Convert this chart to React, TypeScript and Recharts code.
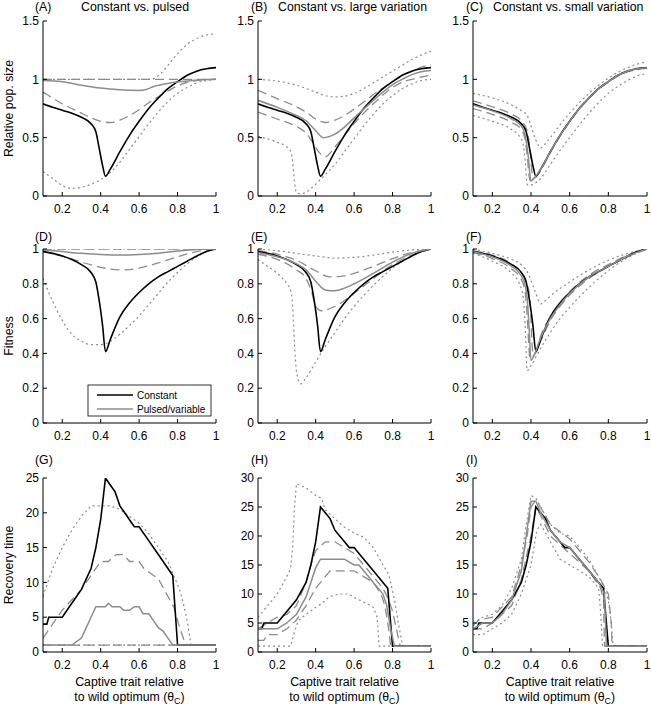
import React from 'react';
import { LineChart, Line, XAxis, YAxis } from 'recharts';

type Pt = [number, number];

// ---------- tick labels ----------
const X_TICKS = [0.2, 0.4, 0.6, 0.8, 1];
const POP_TICKS = [0, 0.5, 1, 1.5];
const FIT_TICKS = [0, 0.2, 0.4, 0.6, 0.8, 1];
const REC_TICKS_25 = [0, 5, 10, 15, 20, 25];
const REC_TICKS_30 = [0, 5, 10, 15, 20, 25, 30];

// ---------- Relative pop. size ----------
const popConstant: Pt[] = [[0.1,0.79],[0.15,0.76],[0.2,0.735],[0.25,0.71],[0.3,0.675],[0.35,0.62],[0.375,0.55],[0.39,0.43],[0.41,0.26],[0.425,0.17],[0.45,0.23],[0.5,0.38],[0.55,0.52],[0.6,0.64],[0.65,0.75],[0.7,0.84],[0.75,0.92],[0.8,0.98],[0.85,1.035],[0.9,1.07],[0.95,1.09],[1.0,1.1]];

const popPulsedMean: Pt[] = [[0.1,0.99],[0.2,0.98],[0.3,0.95],[0.4,0.925],[0.5,0.91],[0.6,0.905],[0.63,0.91],[0.68,0.94],[0.75,0.965],[0.85,0.985],[0.95,0.998],[1.0,1.0]];
const popPulsedDashHi: Pt[] = [[0.1,1.0],[1.0,1.0]];
const popPulsedDashLo: Pt[] = [[0.1,0.89],[0.15,0.84],[0.2,0.79],[0.25,0.75],[0.3,0.71],[0.35,0.67],[0.4,0.64],[0.45,0.63],[0.5,0.65],[0.55,0.69],[0.6,0.74],[0.65,0.8],[0.7,0.85],[0.75,0.9],[0.8,0.945],[0.85,0.975],[0.9,0.99],[1.0,1.0]];
const popPulsedDotHi: Pt[] = [[0.1,1.0],[0.66,1.0],[0.7,1.03],[0.75,1.12],[0.8,1.22],[0.85,1.3],[0.9,1.35],[0.95,1.38],[1.0,1.39]];
const popPulsedDotLo: Pt[] = [[0.1,0.21],[0.15,0.15],[0.2,0.09],[0.25,0.065],[0.3,0.075],[0.35,0.1],[0.4,0.14],[0.425,0.17],[0.45,0.2],[0.5,0.29],[0.55,0.4],[0.6,0.51],[0.65,0.62],[0.7,0.72],[0.75,0.81],[0.8,0.88],[0.85,0.93],[0.9,0.97],[0.95,0.99],[1.0,1.0]];

const popLargeMean: Pt[] = [[0.1,0.82],[0.2,0.76],[0.3,0.69],[0.35,0.645],[0.4,0.56],[0.44,0.5],[0.5,0.53],[0.55,0.59],[0.6,0.67],[0.65,0.745],[0.7,0.82],[0.75,0.89],[0.8,0.955],[0.85,1.0],[0.9,1.04],[0.95,1.065],[1.0,1.075]];
const popLargeDashHi: Pt[] = [[0.1,0.905],[0.2,0.835],[0.3,0.765],[0.35,0.72],[0.4,0.66],[0.45,0.63],[0.5,0.65],[0.55,0.69],[0.6,0.745],[0.65,0.805],[0.7,0.87],[0.75,0.925],[0.8,0.98],[0.85,1.03],[0.9,1.07],[0.95,1.105],[1.0,1.125]];
const popLargeDashLo: Pt[] = [[0.1,0.72],[0.2,0.66],[0.3,0.595],[0.35,0.54],[0.38,0.47],[0.42,0.37],[0.45,0.335],[0.5,0.42],[0.55,0.52],[0.6,0.62],[0.65,0.71],[0.7,0.79],[0.75,0.865],[0.8,0.93],[0.85,0.975],[0.9,1.0],[0.95,1.02],[1.0,1.035]];
const popLargeDotHi: Pt[] = [[0.1,1.0],[0.2,0.985],[0.3,0.95],[0.4,0.89],[0.45,0.86],[0.5,0.85],[0.55,0.855],[0.6,0.88],[0.65,0.92],[0.7,0.97],[0.75,1.02],[0.8,1.07],[0.85,1.12],[0.9,1.17],[0.95,1.21],[1.0,1.24]];
const popLargeDotLo: Pt[] = [[0.1,0.51],[0.15,0.49],[0.2,0.46],[0.25,0.42],[0.27,0.38],[0.28,0.3],[0.29,0.12],[0.3,0.03],[0.32,0.02],[0.34,0.025],[0.38,0.07],[0.43,0.15],[0.5,0.27],[0.55,0.38],[0.6,0.49],[0.65,0.6],[0.7,0.7],[0.75,0.79],[0.8,0.86],[0.85,0.92],[0.9,0.96],[0.95,0.99],[1.0,1.0]];

const popSmallMean: Pt[] = [[0.1,0.78],[0.2,0.73],[0.3,0.66],[0.35,0.6],[0.37,0.52],[0.385,0.35],[0.4,0.13],[0.42,0.16],[0.45,0.23],[0.5,0.38],[0.55,0.52],[0.6,0.64],[0.65,0.75],[0.7,0.84],[0.75,0.92],[0.8,0.98],[0.85,1.035],[0.9,1.07],[0.95,1.09],[1.0,1.1]];
const popSmallDashHi: Pt[] = [[0.1,0.815],[0.2,0.765],[0.3,0.7],[0.35,0.645],[0.38,0.56],[0.395,0.4],[0.41,0.15],[0.43,0.18],[0.45,0.23],[0.5,0.38],[0.55,0.52],[0.6,0.645],[0.65,0.755],[0.7,0.845],[0.75,0.925],[0.8,0.985],[0.85,1.04],[0.9,1.075],[0.95,1.095],[1.0,1.105]];
const popSmallDashLo: Pt[] = [[0.1,0.75],[0.2,0.7],[0.3,0.63],[0.35,0.57],[0.37,0.48],[0.38,0.35],[0.395,0.13],[0.42,0.15],[0.45,0.22],[0.5,0.37],[0.55,0.51],[0.6,0.635],[0.65,0.745],[0.7,0.835],[0.75,0.915],[0.8,0.975],[0.85,1.03],[0.9,1.065],[0.95,1.085],[1.0,1.095]];
const popSmallDotHi: Pt[] = [[0.1,0.88],[0.2,0.84],[0.3,0.78],[0.35,0.73],[0.38,0.69],[0.4,0.6],[0.43,0.46],[0.45,0.41],[0.47,0.44],[0.5,0.5],[0.55,0.61],[0.6,0.71],[0.65,0.8],[0.7,0.88],[0.75,0.95],[0.8,1.01],[0.85,1.06],[0.9,1.1],[0.95,1.13],[1.0,1.15]];
const popSmallDotLo: Pt[] = [[0.1,0.69],[0.2,0.64],[0.3,0.57],[0.34,0.51],[0.36,0.44],[0.37,0.3],[0.38,0.1],[0.39,0.09],[0.41,0.1],[0.45,0.15],[0.5,0.27],[0.55,0.39],[0.6,0.5],[0.65,0.61],[0.7,0.71],[0.75,0.8],[0.8,0.88],[0.85,0.94],[0.9,0.99],[0.95,1.03],[1.0,1.05]];

// ---------- Fitness ----------
const fitConstant: Pt[] = [[0.1,0.985],[0.15,0.975],[0.2,0.96],[0.25,0.94],[0.3,0.91],[0.35,0.865],[0.375,0.81],[0.39,0.72],[0.41,0.56],[0.425,0.41],[0.45,0.48],[0.5,0.61],[0.55,0.69],[0.6,0.75],[0.65,0.8],[0.7,0.84],[0.75,0.87],[0.8,0.9],[0.85,0.93],[0.9,0.96],[0.95,0.985],[1.0,1.0]];

const fitPulsedMean: Pt[] = [[0.1,0.995],[0.2,0.985],[0.3,0.975],[0.4,0.968],[0.5,0.965],[0.6,0.968],[0.7,0.976],[0.8,0.988],[0.9,0.997],[1.0,1.0]];
const fitPulsedDashHi: Pt[] = [[0.1,1.0],[1.0,1.0]];
const fitPulsedDashLo: Pt[] = [[0.1,0.99],[0.15,0.975],[0.2,0.96],[0.3,0.925],[0.4,0.895],[0.5,0.88],[0.55,0.882],[0.6,0.89],[0.7,0.92],[0.8,0.955],[0.9,0.985],[1.0,1.0]];
const fitPulsedDotHi: Pt[] = [[0.1,1.0],[1.0,1.0]];
const fitPulsedDotLo: Pt[] = [[0.1,0.83],[0.15,0.7],[0.2,0.59],[0.25,0.51],[0.3,0.47],[0.35,0.45],[0.4,0.45],[0.45,0.47],[0.5,0.51],[0.55,0.56],[0.6,0.615],[0.65,0.68],[0.7,0.745],[0.75,0.81],[0.8,0.865],[0.85,0.915],[0.9,0.955],[0.95,0.985],[1.0,1.0]];

const fitLargeMean: Pt[] = [[0.1,0.98],[0.2,0.955],[0.3,0.915],[0.35,0.88],[0.4,0.815],[0.45,0.765],[0.5,0.76],[0.55,0.775],[0.6,0.8],[0.7,0.86],[0.8,0.925],[0.9,0.975],[1.0,1.0]];
const fitLargeDashHi: Pt[] = [[0.1,0.99],[0.2,0.97],[0.3,0.935],[0.4,0.875],[0.47,0.84],[0.55,0.845],[0.6,0.86],[0.7,0.9],[0.8,0.945],[0.9,0.98],[1.0,1.0]];
const fitLargeDashLo: Pt[] = [[0.1,0.97],[0.2,0.94],[0.3,0.88],[0.35,0.83],[0.38,0.75],[0.4,0.67],[0.43,0.645],[0.5,0.67],[0.6,0.745],[0.7,0.83],[0.8,0.91],[0.9,0.965],[1.0,1.0]];
const fitLargeDotHi: Pt[] = [[0.1,1.0],[0.2,0.99],[0.3,0.975],[0.4,0.96],[0.5,0.948],[0.6,0.952],[0.7,0.965],[0.8,0.982],[0.9,0.995],[1.0,1.0]];
const fitLargeDotLo: Pt[] = [[0.1,0.94],[0.15,0.9],[0.2,0.86],[0.25,0.8],[0.27,0.76],[0.28,0.68],[0.29,0.45],[0.3,0.3],[0.32,0.225],[0.35,0.26],[0.4,0.35],[0.45,0.44],[0.5,0.52],[0.55,0.6],[0.6,0.67],[0.7,0.79],[0.8,0.89],[0.9,0.96],[1.0,1.0]];

const fitSmallMean: Pt[] = [[0.1,0.985],[0.2,0.955],[0.3,0.9],[0.35,0.845],[0.37,0.79],[0.38,0.72],[0.39,0.55],[0.4,0.36],[0.42,0.4],[0.45,0.49],[0.5,0.6],[0.55,0.68],[0.6,0.745],[0.7,0.84],[0.8,0.9],[0.9,0.96],[1.0,1.0]];
const fitSmallDashHi: Pt[] = [[0.1,0.99],[0.2,0.965],[0.3,0.915],[0.35,0.865],[0.38,0.8],[0.395,0.7],[0.41,0.4],[0.425,0.41],[0.45,0.5],[0.5,0.61],[0.55,0.69],[0.6,0.755],[0.7,0.85],[0.8,0.91],[0.9,0.965],[1.0,1.0]];
const fitSmallDashLo: Pt[] = [[0.1,0.98],[0.2,0.945],[0.3,0.885],[0.35,0.825],[0.37,0.75],[0.38,0.62],[0.395,0.37],[0.41,0.38],[0.45,0.47],[0.5,0.59],[0.55,0.67],[0.6,0.735],[0.7,0.83],[0.8,0.9],[0.9,0.955],[1.0,1.0]];
const fitSmallDotHi: Pt[] = [[0.1,1.0],[0.2,0.975],[0.3,0.94],[0.35,0.91],[0.38,0.87],[0.42,0.76],[0.45,0.685],[0.48,0.71],[0.5,0.73],[0.6,0.81],[0.7,0.88],[0.8,0.935],[0.9,0.975],[1.0,1.0]];
const fitSmallDotLo: Pt[] = [[0.1,0.975],[0.2,0.93],[0.3,0.86],[0.34,0.8],[0.36,0.72],[0.37,0.55],[0.38,0.3],[0.4,0.33],[0.45,0.43],[0.5,0.52],[0.55,0.6],[0.6,0.665],[0.7,0.78],[0.8,0.875],[0.9,0.95],[1.0,1.0]];

// ---------- Recovery time ----------
const recConstant: Pt[] = [[0.1,4],[0.12,4],[0.13,5],[0.15,5],[0.2,5],[0.25,7],[0.3,9],[0.35,12],[0.375,15],[0.4,19],[0.425,25],[0.45,24],[0.475,23],[0.5,21],[0.525,20],[0.55,19],[0.575,18],[0.6,18],[0.65,16],[0.7,14],[0.75,12],[0.775,11],[0.8,1],[1.0,1]];

const recPulsedMean: Pt[] = [[0.1,1],[0.25,1],[0.3,2],[0.325,3.5],[0.35,5],[0.375,6.5],[0.4,6.5],[0.425,6.5],[0.44,7],[0.46,6.5],[0.5,6.5],[0.52,6],[0.55,6],[0.575,6.5],[0.6,6.5],[0.62,5.5],[0.65,5.5],[0.675,4.5],[0.7,3.5],[0.725,3],[0.75,2],[0.775,1],[1.0,1]];
const recPulsedDashHi: Pt[] = [[0.1,2],[0.15,4],[0.2,6],[0.25,7.5],[0.3,9],[0.35,11],[0.375,12],[0.4,13],[0.44,13],[0.46,13.5],[0.48,14],[0.52,14],[0.55,13],[0.6,13],[0.625,12],[0.65,11.5],[0.7,10.5],[0.74,8.5],[0.78,6.5],[0.81,3.6],[0.84,1.2],[0.85,1],[1.0,1]];
const recPulsedDashLo: Pt[] = [[0.1,1],[1.0,1]];
const recPulsedDotHi: Pt[] = [[0.1,8],[0.15,12],[0.2,15],[0.25,17.5],[0.3,19.5],[0.35,21],[0.4,21],[0.45,21],[0.5,20.5],[0.55,19.5],[0.6,18.5],[0.65,17],[0.7,15],[0.75,13],[0.78,11],[0.81,9],[0.83,7],[0.85,4.5],[0.87,1],[1.0,1]];
const recPulsedDotLo: Pt[] = [[0.1,1],[1.0,1]];

const recLargeMean: Pt[] = [[0.1,4],[0.2,4],[0.25,5],[0.3,6.5],[0.35,9.5],[0.375,12],[0.4,14.5],[0.425,16],[0.5,16],[0.55,16],[0.6,15],[0.625,15],[0.65,14],[0.7,12],[0.75,10],[0.77,8],[0.79,4],[0.81,1],[1.0,1]];
const recLargeDashHi: Pt[] = [[0.1,4],[0.15,5],[0.2,6],[0.25,6.5],[0.3,8],[0.35,12],[0.375,15],[0.4,17.5],[0.45,19],[0.5,19],[0.55,18],[0.6,17],[0.65,15],[0.7,13],[0.75,11],[0.78,9],[0.8,7],[0.82,4],[0.84,1],[1.0,1]];
const recLargeDashLo: Pt[] = [[0.1,2],[0.13,2],[0.15,3],[0.2,3],[0.25,4],[0.3,5.5],[0.35,8],[0.4,11],[0.45,13],[0.475,14],[0.6,14],[0.65,13],[0.7,12],[0.74,10],[0.76,8],[0.78,4],[0.79,1],[1.0,1]];
const recLargeDotHi: Pt[] = [[0.1,6],[0.15,8],[0.2,10],[0.25,13],[0.27,14.5],[0.28,18],[0.29,25],[0.3,29],[0.35,28.3],[0.4,27],[0.43,26.5],[0.45,24.5],[0.5,23],[0.55,21.5],[0.6,20.5],[0.65,19.8],[0.7,18],[0.75,15],[0.78,13.4],[0.81,9],[0.83,5],[0.85,1.5],[0.86,1],[1.0,1]];
const recLargeDotLo: Pt[] = [[0.1,1],[0.27,1],[0.29,3.5],[0.31,5.4],[0.35,6.5],[0.4,7.7],[0.43,8.3],[0.47,9.5],[0.52,10],[0.57,10],[0.6,9.4],[0.67,8.3],[0.7,7.7],[0.72,6],[0.73,1],[1.0,1]];

const recSmallMean: Pt[] = [[0.1,4],[0.15,5],[0.2,5],[0.25,6.5],[0.3,9],[0.35,14],[0.375,20],[0.4,26],[0.425,26],[0.45,24],[0.5,21],[0.55,19],[0.6,18],[0.65,16],[0.7,14],[0.75,12],[0.78,10],[0.79,1],[1.0,1]];
const recSmallDashHi: Pt[] = [[0.1,4.5],[0.13,5.5],[0.2,6],[0.3,9.5],[0.35,15],[0.38,20],[0.4,25],[0.42,26],[0.44,25.5],[0.5,22],[0.6,19.5],[0.7,15.5],[0.76,12.5],[0.8,10],[0.815,5],[0.82,1],[1.0,1]];
const recSmallDashLo: Pt[] = [[0.1,4],[0.15,4],[0.2,5],[0.3,8],[0.35,12.5],[0.4,20],[0.425,25],[0.45,23.5],[0.5,20],[0.6,17],[0.7,14],[0.76,11],[0.775,9],[0.78,1],[1.0,1]];
const recSmallDotHi: Pt[] = [[0.1,5],[0.15,6],[0.2,6.5],[0.25,8],[0.3,11],[0.35,16],[0.375,22],[0.4,27],[0.425,26.5],[0.45,25],[0.5,22],[0.55,20.5],[0.6,20],[0.65,18],[0.7,16],[0.75,13],[0.78,11],[0.8,9],[0.815,5],[0.825,1],[1.0,1]];
const recSmallDotLo: Pt[] = [[0.1,3],[0.15,3],[0.2,4],[0.25,5],[0.3,6.5],[0.35,10],[0.4,15],[0.43,21],[0.45,22],[0.5,19],[0.55,16],[0.6,15],[0.65,14],[0.7,13],[0.75,11],[0.76,7],[0.77,1],[1.0,1]];

// ---------- layout ----------
const FONT = '"Liberation Sans", Arial, Helvetica, sans-serif';
const GRAY = '#8c8c8c';
const COLS = [{ l: 43, r: 216 }, { l: 258, r: 431 }, { l: 473, r: 647 }];
const ROWS = [{ t: 21, b: 196 }, { t: 249, b: 423 }, { t: 478, b: 652 }];
const PAD_L = 40, PAD_R = 10, PAD_T = 10, PAD_B = 30;

type Kind = 'const' | 'mean' | 'dash' | 'dot';
const STYLE: Record<Kind, any> = {
  const: { stroke: '#000', strokeWidth: 1.6 },
  mean: { stroke: GRAY, strokeWidth: 1.5 },
  dash: { stroke: GRAY, strokeWidth: 1.3, strokeDasharray: '9 5' },
  dot: { stroke: GRAY, strokeWidth: 1.2, strokeDasharray: '2 3' },
};

type S = { pts: Pt[]; kind: Kind };
const mk = (dotHi: Pt[], dotLo: Pt[], dashHi: Pt[], dashLo: Pt[], cst: Pt[], mean: Pt[]): S[] => [
  { pts: dotHi, kind: 'dot' }, { pts: dotLo, kind: 'dot' },
  { pts: dashHi, kind: 'dash' }, { pts: dashLo, kind: 'dash' },
  { pts: cst, kind: 'const' }, { pts: mean, kind: 'mean' },
];

const PANELS = [
  { row: 0, col: 0, dom: [0, 1.5], ticks: POP_TICKS, curve: 'monotoneX', s: mk(popPulsedDotHi, popPulsedDotLo, popPulsedDashHi, popPulsedDashLo, popConstant, popPulsedMean) },
  { row: 0, col: 1, dom: [0, 1.5], ticks: POP_TICKS, curve: 'monotoneX', s: mk(popLargeDotHi, popLargeDotLo, popLargeDashHi, popLargeDashLo, popConstant, popLargeMean) },
  { row: 0, col: 2, dom: [0, 1.5], ticks: POP_TICKS, curve: 'monotoneX', s: mk(popSmallDotHi, popSmallDotLo, popSmallDashHi, popSmallDashLo, popConstant, popSmallMean) },
  { row: 1, col: 0, dom: [0, 1], ticks: FIT_TICKS, curve: 'monotoneX', s: mk(fitPulsedDotHi, fitPulsedDotLo, fitPulsedDashHi, fitPulsedDashLo, fitConstant, fitPulsedMean) },
  { row: 1, col: 1, dom: [0, 1], ticks: FIT_TICKS, curve: 'monotoneX', s: mk(fitLargeDotHi, fitLargeDotLo, fitLargeDashHi, fitLargeDashLo, fitConstant, fitLargeMean) },
  { row: 1, col: 2, dom: [0, 1], ticks: FIT_TICKS, curve: 'monotoneX', s: mk(fitSmallDotHi, fitSmallDotLo, fitSmallDashHi, fitSmallDashLo, fitConstant, fitSmallMean) },
  { row: 2, col: 0, dom: [0, 25], ticks: REC_TICKS_25, curve: 'linear', s: mk(recPulsedDotHi, recPulsedDotLo, recPulsedDashHi, recPulsedDashLo, recConstant, recPulsedMean) },
  { row: 2, col: 1, dom: [0, 30], ticks: REC_TICKS_30, curve: 'linear', s: mk(recLargeDotHi, recLargeDotLo, recLargeDashHi, recLargeDashLo, recConstant, recLargeMean) },
  { row: 2, col: 2, dom: [0, 30], ticks: REC_TICKS_30, curve: 'linear', s: mk(recSmallDotHi, recSmallDotLo, recSmallDashHi, recSmallDashLo, recConstant, recSmallMean) },
];

function Panel({ p }: { p: any }) {
  const c = COLS[p.col], r = ROWS[p.row];
  const w = c.r - c.l + PAD_L + PAD_R;
  const h = r.b - r.t + PAD_T + PAD_B;
  const tick = { fontSize: 12, fill: '#000', fontFamily: FONT };
  return (
    <div style={{ position: 'absolute', left: c.l - PAD_L, top: r.t - PAD_T, width: w, height: h }}>
      <LineChart width={w} height={h} margin={{ top: PAD_T, right: PAD_R, bottom: 0, left: 0 }} style={{ overflow: 'visible' }}>
        <XAxis type="number" dataKey="x" domain={[0.1, 1]} ticks={X_TICKS} interval={0} allowDataOverflow
          height={PAD_B} tickSize={-4} tickMargin={12} tick={tick}
          axisLine={{ stroke: '#000', strokeWidth: 1 }} tickLine={{ stroke: '#000' }} />
        <YAxis type="number" dataKey="y" domain={p.dom} ticks={p.ticks} interval={0} allowDataOverflow
          width={PAD_L} tickSize={-4} tickMargin={8} tick={tick}
          axisLine={{ stroke: '#000', strokeWidth: 1 }} tickLine={{ stroke: '#000' }} />
        {p.s.map((s: S, i: number) => (
          <Line key={i} data={s.pts.map(([x, y]) => ({ x, y }))} dataKey="y" type={p.curve}
            dot={false} activeDot={false} isAnimationActive={false} {...STYLE[s.kind]} />
        ))}
      </LineChart>
    </div>
  );
}

const TITLES = [
  { tag: '(A)', tx: 35, title: 'Constant vs. pulsed', ttx: 81 },
  { tag: '(B)', tx: 251, title: 'Constant vs. large variation', ttx: 278 },
  { tag: '(C)', tx: 466, title: 'Constant vs. small variation', ttx: 493 },
];
const TAGS2 = ['(D)', '(E)', '(F)'];
const TAGS3 = ['(G)', '(H)', '(I)'];
const TAG_X = [35, 251, 466];
const Y_LABELS = ['Relative pop. size', 'Fitness', 'Recovery time'];
const LEGEND_LABELS = ['Constant', 'Pulsed/variable'];

export default function App() {
  return (
    <div style={{ position: 'absolute', left: 0, top: 0, width: 651, height: 708, background: '#fff', fontFamily: FONT }}>
      {PANELS.map((p, i) => <Panel key={i} p={p} />)}
      <svg width={651} height={708} style={{ position: 'absolute', left: 0, top: 0, pointerEvents: 'none' }} fontFamily={FONT}>
        {TITLES.map((t, i) => (
          <g key={i}>
            <text x={t.tx} y={11} fontSize={12.3}>{t.tag}</text>
            <text x={t.ttx} y={11} fontSize={12.3}>{t.title}</text>
          </g>
        ))}
        {TAGS2.map((t, i) => <text key={'d' + i} x={TAG_X[i]} y={241} fontSize={12.3}>{t}</text>)}
        {TAGS3.map((t, i) => <text key={'g' + i} x={TAG_X[i]} y={464} fontSize={12.3}>{t}</text>)}
        {Y_LABELS.map((t, i) => {
          const cy = (ROWS[i].t + ROWS[i].b) / 2;
          return <text key={'y' + i} x={13} y={cy} fontSize={12.3} textAnchor="middle" transform={`rotate(-90 13 ${cy})`}>{t}</text>;
        })}
        {COLS.map((c, i) => {
          const cx = (c.l + c.r) / 2;
          return (
            <g key={'x' + i}>
              <text x={cx} y={686} fontSize={12.3} textAnchor="middle">Captive trait relative</text>
              <text x={cx} y={701} fontSize={12.3} textAnchor="middle">to wild optimum (θ<tspan fontSize={9} dy={3}>C</tspan><tspan dy={-3}>)</tspan></text>
            </g>
          );
        })}
        <rect x={88} y={385} width={123} height={31} fill="#fff" stroke="#000" strokeWidth={0.8} />
        <line x1={97} x2={133} y1={395} y2={395} stroke="#000" strokeWidth={1.6} />
        <line x1={97} x2={133} y1={409} y2={409} stroke={GRAY} strokeWidth={1.5} />
        <text x={137} y={399} fontSize={10}>{LEGEND_LABELS[0]}</text>
        <text x={137} y={413} fontSize={10}>{LEGEND_LABELS[1]}</text>
      </svg>
    </div>
  );
}
